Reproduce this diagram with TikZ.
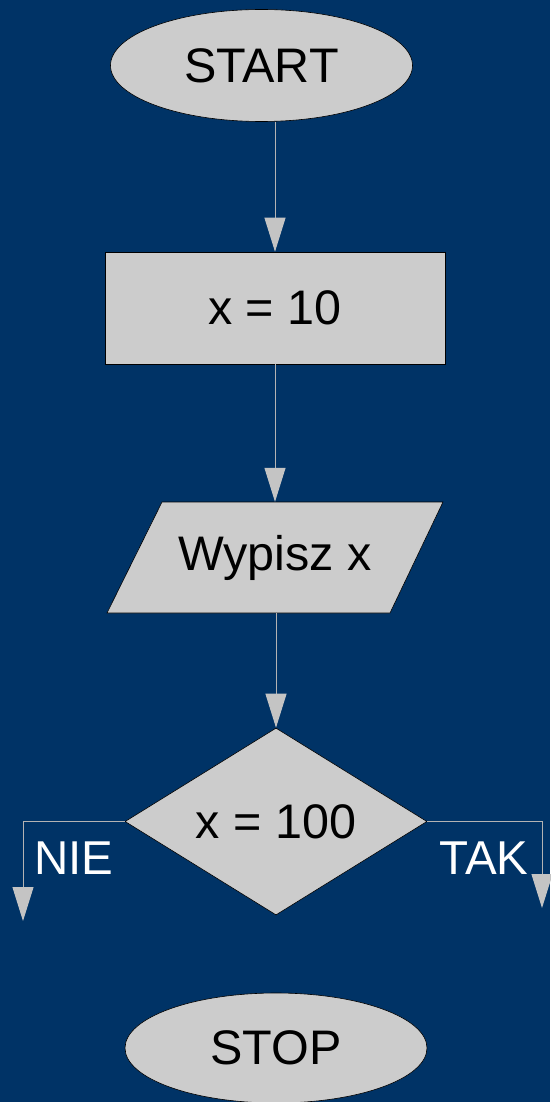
\documentclass[tikz,border=0pt]{standalone}
\usepackage{fontspec}
\setmainfont{Liberation Sans}
\usetikzlibrary{shapes.geometric,arrows.meta}
\definecolor{bgblue}{HTML}{003366}
\definecolor{boxgray}{HTML}{CCCCCC}
\definecolor{linegray}{HTML}{B3B3B3}
\definecolor{headgray}{HTML}{C4C4C4}
\tikzset{
  shapebox/.style={draw=black, line width=0.6pt, fill=boxgray, inner sep=0pt, text=black,
    font=\fontsize{48.5}{52}\selectfont},
  arr/.style={draw=linegray, line width=1pt,
    -{Triangle[length=34pt,width=21pt,fill=headgray,color=headgray]}},
  lbl/.style={text=white, inner sep=0pt, font=\fontsize{47.5}{50}\selectfont}
}
\begin{document}
\begin{tikzpicture}[x=1pt,y=-1pt]
\fill[bgblue] (0,0) rectangle (550,1102);
\useasboundingbox (0,0) rectangle (550,1102);

\node[shapebox, ellipse, minimum width=302pt, minimum height=112pt] (start) at (261.5,65.5) {START};
\node[shapebox, rectangle, minimum width=340pt, minimum height=112pt] (init) at (275,308) {x = 10};

% parallelogram
\draw[line width=0.6pt, fill=boxgray] (162,502) -- (443,502) -- (390,613) -- (107,613) -- cycle;
\node[inner sep=0pt, minimum width=336pt, minimum height=111pt, text=black,
      font=\fontsize{48.5}{52}\selectfont] (out) at (275,557.5) {Wypisz x};

\node[shapebox, diamond, aspect=1.615, minimum width=302pt, minimum height=187pt] (dia) at (276,821.5) {x = 100};

\node[shapebox, ellipse, minimum width=302pt, minimum height=110pt] (stop) at (276,1048) {STOP};

\coordinate (nieEnd) at (23,921);
\coordinate (takEnd) at (542,908);

\draw[arr] (start.south -| init.north) -- (init.north);
\draw[arr] (init.south) -- (init.south |- out.north);
\draw[arr] (out.south -| dia.north) -- (dia.north);
\draw[arr] (dia.west) -| (nieEnd);
\draw[arr] (dia.east) -| (takEnd);

\node[lbl] (nie) at (74,858) {NIE};
\node[lbl] (tak) at (484,858) {TAK};
\end{tikzpicture}
\end{document}
